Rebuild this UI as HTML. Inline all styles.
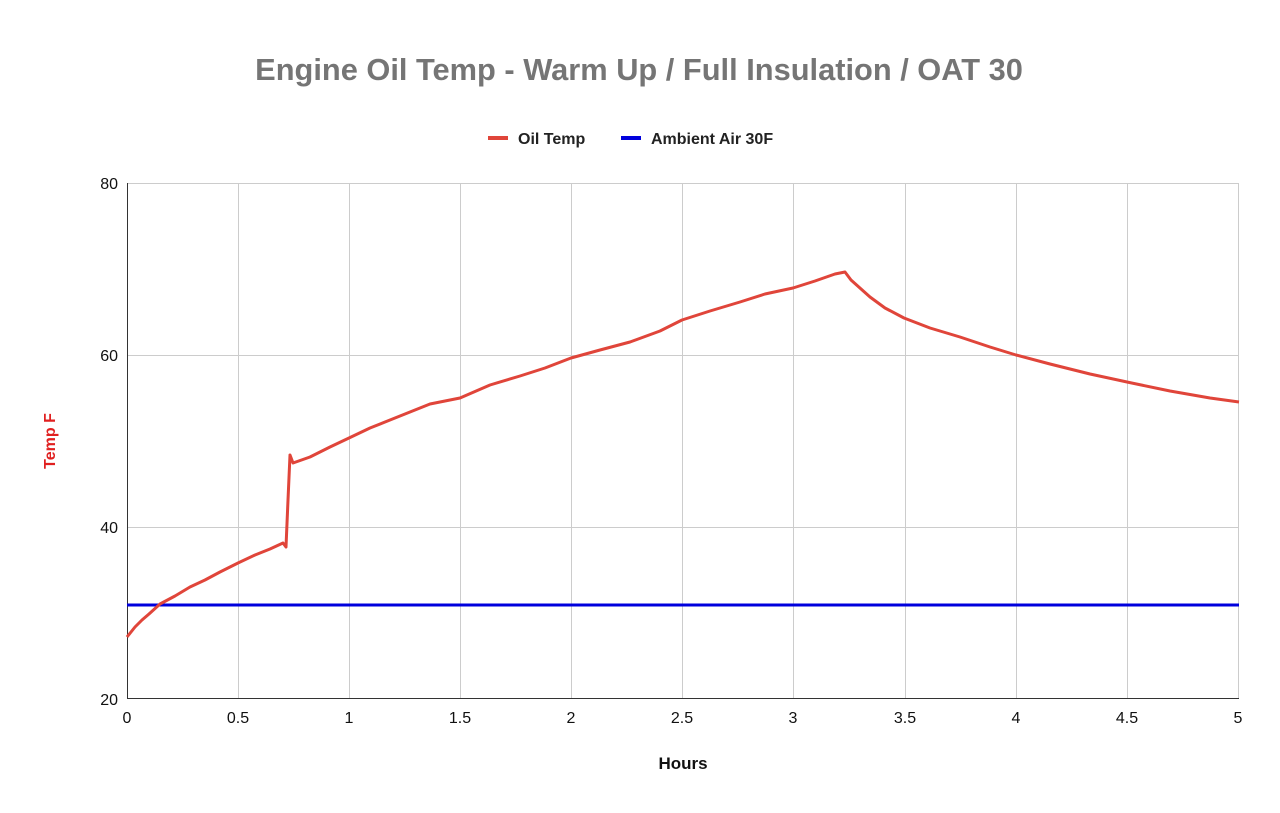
<!DOCTYPE html>
<html><head><style>
html,body{margin:0;padding:0;background:#fff;}
svg{display:block;font-family:"Liberation Sans",Arial,sans-serif;}
</style></head><body>
<svg width="1280" height="813" viewBox="0 0 1280 813">
<rect width="1280" height="813" fill="#fff"/>
<text x="639" y="80" text-anchor="middle" font-size="30.8" font-weight="bold" fill="#757575">Engine Oil Temp - Warm Up / Full Insulation / OAT 30</text>
<line x1="488" y1="138" x2="508" y2="138" stroke="#e0453a" stroke-width="4"/>
<text x="518" y="144" font-size="16" font-weight="bold" fill="#222">Oil Temp</text>
<line x1="621" y1="138" x2="641" y2="138" stroke="#0000dd" stroke-width="4"/>
<text x="651" y="144" font-size="16" font-weight="bold" fill="#222">Ambient Air 30F</text>
<g stroke="#cccccc" stroke-width="1">
<line x1="127" y1="183.5" x2="1239" y2="183.5"/>
<line x1="127" y1="355.5" x2="1239" y2="355.5"/>
<line x1="127" y1="527.5" x2="1239" y2="527.5"/>
<line x1="238.5" y1="183" x2="238.5" y2="699"/>
<line x1="349.5" y1="183" x2="349.5" y2="699"/>
<line x1="460.5" y1="183" x2="460.5" y2="699"/>
<line x1="571.5" y1="183" x2="571.5" y2="699"/>
<line x1="682.5" y1="183" x2="682.5" y2="699"/>
<line x1="793.5" y1="183" x2="793.5" y2="699"/>
<line x1="905.5" y1="183" x2="905.5" y2="699"/>
<line x1="1016.5" y1="183" x2="1016.5" y2="699"/>
<line x1="1127.5" y1="183" x2="1127.5" y2="699"/>
<line x1="1238.5" y1="183" x2="1238.5" y2="699"/>
</g>
<line x1="127.5" y1="183" x2="127.5" y2="699" stroke="#333" stroke-width="1"/>
<line x1="127" y1="698.5" x2="1239" y2="698.5" stroke="#333" stroke-width="1"/>
<g font-size="16" fill="#111" text-anchor="end">
<text x="118" y="189">80</text><text x="118" y="361">60</text><text x="118" y="533">40</text><text x="118" y="705">20</text>
</g>
<g font-size="16" fill="#111" text-anchor="middle">
<text x="127" y="723">0</text><text x="238" y="723">0.5</text><text x="349" y="723">1</text><text x="460" y="723">1.5</text><text x="571" y="723">2</text><text x="682" y="723">2.5</text><text x="793" y="723">3</text><text x="905" y="723">3.5</text><text x="1016" y="723">4</text><text x="1127" y="723">4.5</text><text x="1238" y="723">5</text>
</g>
<text x="683" y="769" text-anchor="middle" font-size="17" font-weight="bold" fill="#111">Hours</text>
<text transform="translate(55,441) rotate(-90)" text-anchor="middle" font-size="16" font-weight="bold" fill="#e02020">Temp F</text>
<line x1="127" y1="605" x2="1239" y2="605" stroke="#0000dd" stroke-width="3"/>
<polyline fill="none" stroke="#e0453a" stroke-width="3" stroke-linejoin="round" points="127,637 135,627 142,620 149,614 160,604 175,596 190,587 205,580 220,572 238,563 255,555 270,549 283,543 286,547 288,500 290,455 293,463 310,457 330,447 349,438 370,428 390,420 410,412 430,404 460,398 490,385 520,376 545,368 571,358 600,350 630,342 660,331 682,320 710,311 740,302 765,294 793,288 815,281 835,274 845,272 851,280 870,297 885,308 904,318 930,328 960,337 990,347 1016,355 1050,364 1090,374 1127,382 1170,391 1210,398 1239,402"/>
</svg>
</body></html>
